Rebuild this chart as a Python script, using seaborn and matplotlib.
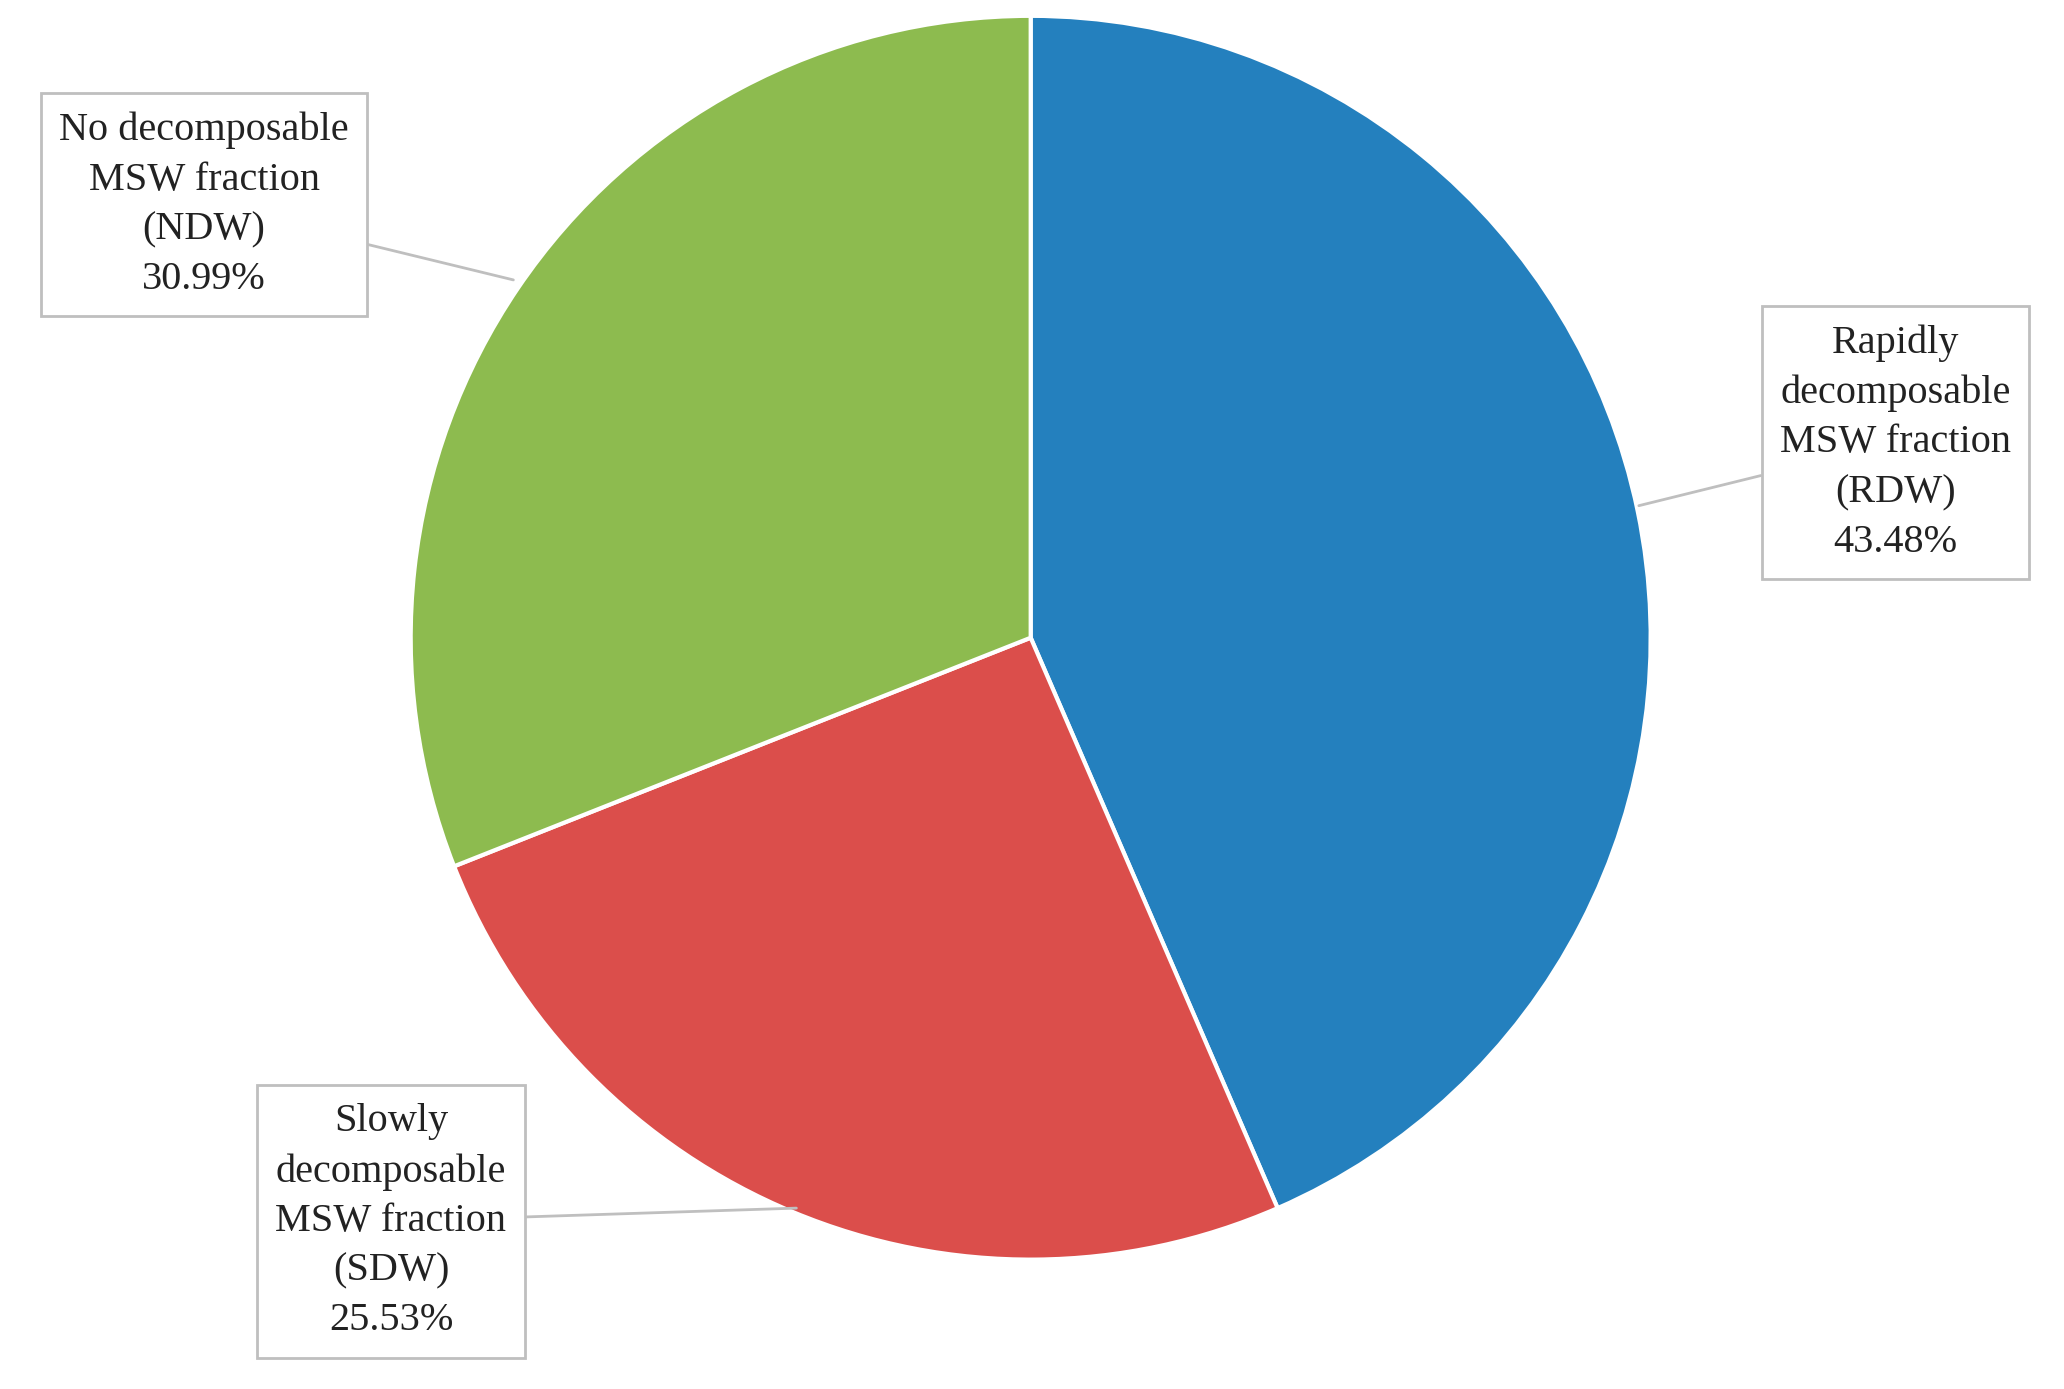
import matplotlib.pyplot as plt
import seaborn as sns

sns.set_style('white')
plt.rcParams['font.family'] = ['Liberation Serif', 'DejaVu Serif']

# Data
labels = ['Rapidly\ndecomposable\nMSW fraction\n(RDW)',
          'Slowly\ndecomposable\nMSW fraction\n(SDW)',
          'No decomposable\nMSW fraction\n(NDW)']
shares = [43.48, 25.53, 30.99]
colors = ['#2480BE', '#DB4E4B', '#8DBB4F']

# Layout in reference pixel space (1568 x 1052, y up)
W, H = 1568, 1052
fig = plt.figure(figsize=(20.64, 13.89), dpi=100)
ax = fig.add_axes([0, 0, 1, 1])

ax.pie(shares, colors=colors, startangle=90, counterclock=False,
       center=(783, H - 483), radius=471,
       wedgeprops={'edgecolor': 'white', 'linewidth': 3})

# pie() resets limits and aspect, so set them afterwards
ax.set_xlim(0, W)
ax.set_ylim(0, H)
ax.set_aspect('auto')
ax.axis('off')

# Callout boxes: (text xy, arrow target)
boxes = [((1440, H - 335), (1245, H - 383)),
         ((297, H - 925), (605, H - 915)),
         ((155, H - 155), (390, H - 212))]

for lab, val, (txy, pxy) in zip(labels, shares, boxes):
    ax.annotate(f'{lab}\n{val:.2f}%', xy=pxy, xytext=txy,
                ha='center', va='center', fontsize=29, linespacing=1.45,
                color='#222222',
                bbox={'boxstyle': 'square,pad=0.45', 'fc': 'white',
                      'ec': '#BFBFBF', 'lw': 2},
                arrowprops={'arrowstyle': '-', 'color': '#BFBFBF', 'lw': 2,
                            'shrinkA': 0, 'shrinkB': 0})

fig.savefig('out.png', dpi=100)
